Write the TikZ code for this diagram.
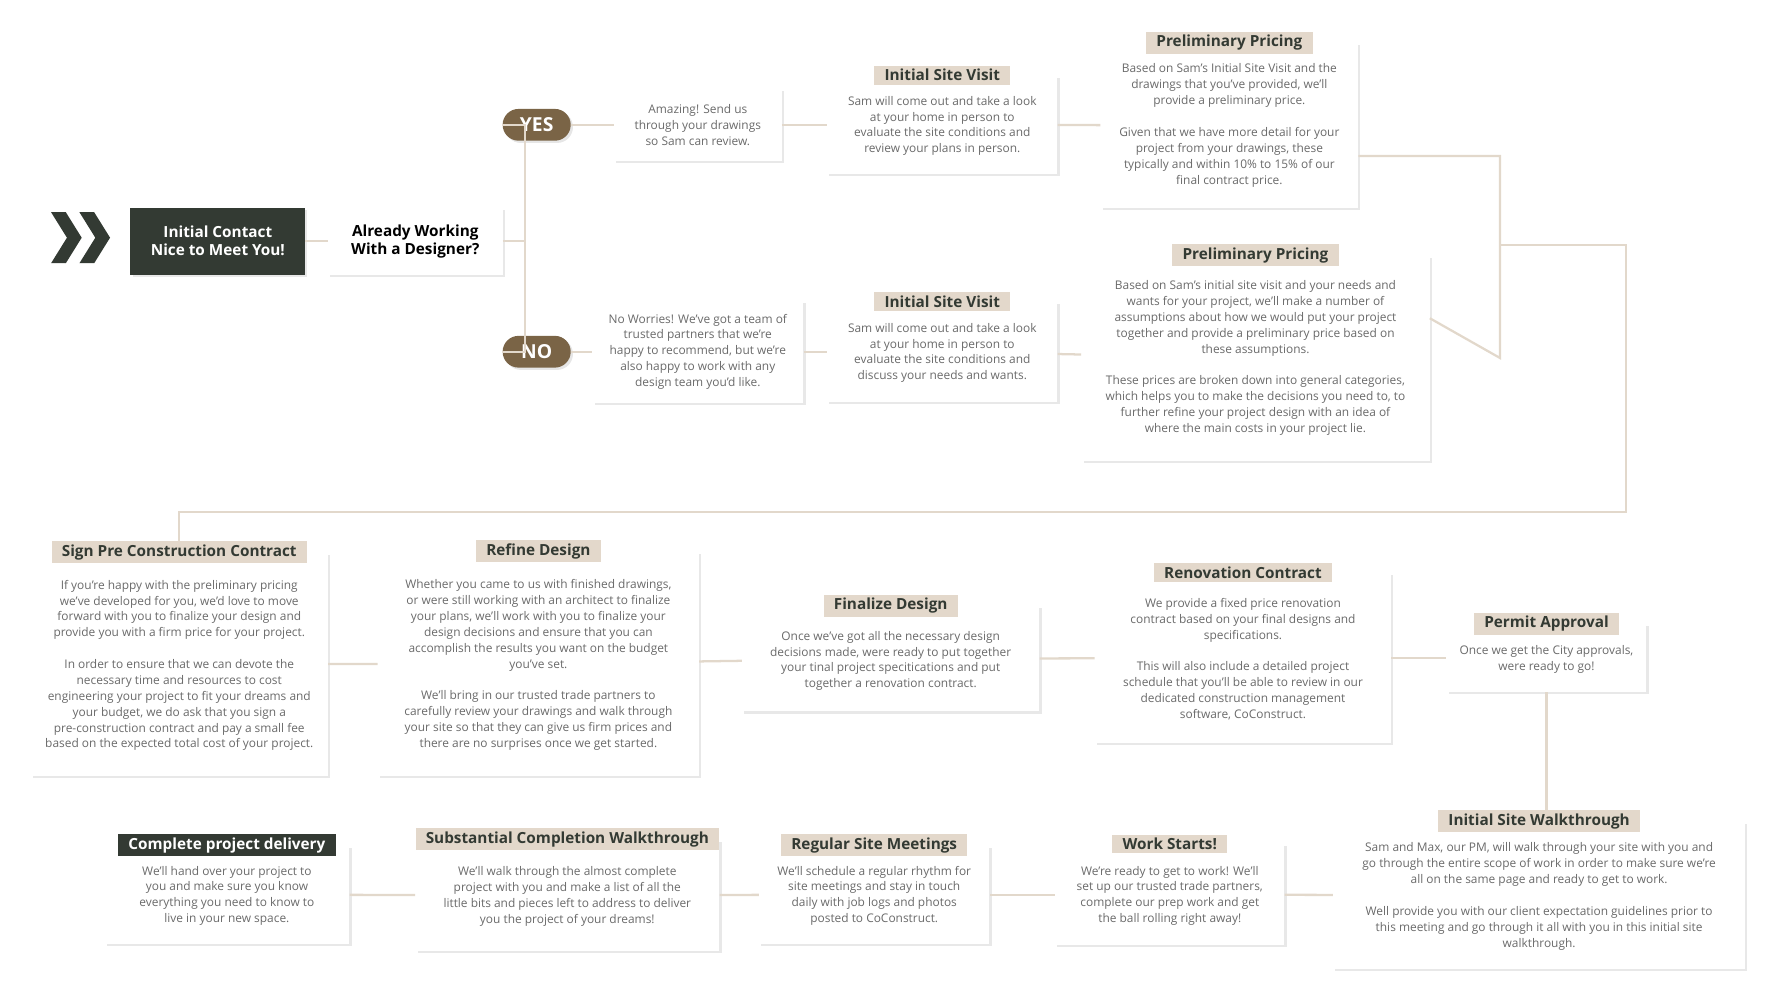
\documentclass[tikz,border=0pt]{standalone}
\usepackage{fontspec}
\setmainfont{Open Sans}
\usetikzlibrary{shadows}
\definecolor{beige}{HTML}{E2D8CB}
\definecolor{tab}{HTML}{E3D8CB}
\definecolor{dark}{HTML}{333A33}
\definecolor{brown}{HTML}{7A6446}
\definecolor{body}{HTML}{6A6A6A}
\tikzset{
	box/.style={draw=none,fill=white,drop shadow={opacity=0.18,shadow xshift=2pt,shadow yshift=-2pt},
		align=center,font=\fontsize{10.5}{14}\selectfont,text=body,inner sep=0pt},
	head/.style={fill=tab,font=\fontsize{13.5}{15}\selectfont\bfseries,text=dark,inner xsep=9pt,inner ysep=3pt},
	dhead/.style={head,fill=dark,text=white},
	pill/.style={fill=brown,rounded corners=14pt,minimum width=60pt,minimum height=28pt,text=white,
		font=\fontsize{17}{17}\selectfont\bfseries,drop shadow={opacity=0.2,shadow xshift=2pt,shadow yshift=-2pt}},
	link/.style={draw=beige,line width=2pt}
}
\begin{document}
\begin{tikzpicture}[x=1pt,y=-1pt]
	\useasboundingbox (0,0) rectangle (1560,881);
	% start
	\fill[dark] (45,187) -- (58,187) -- (72,209.5) -- (58,232) -- (45,232) -- (59,209.5) -- cycle;
	\fill[dark] (70,187) -- (83,187) -- (97,209.5) -- (83,232) -- (70,232) -- (84,209.5) -- cycle;
	\node[box,fill=dark,text=white,minimum width=154pt,minimum height=59pt,font=\fontsize{13.5}{16}\selectfont\bfseries] (init) at (192,212.5) {Initial Contact\\Nice to Meet You!};
	\node[box,text=black,minimum width=154pt,minimum height=59pt,font=\fontsize{13.5}{16}\selectfont\bfseries] (designer) at (366,212.5) {Already Working\\With a Designer?};
	\node[pill] (yes) at (473,110) {YES};
	\node[pill] (no) at (473,310) {NO};

	% yes row
	\node[box,minimum width=148pt,minimum height=63pt] (amazing) at (615,110) {Amazing! Send us\\through your drawings\\so Sam can review.};
	\node[box,minimum width=203pt,minimum height=87pt] (visita) at (830.5,110) {\\[-4pt]Sam will come out and take a look\\at your home in person to\\evaluate the site conditions and\\review your plans in person.};
	\node[head] at (visita.north) {Initial Site Visit};
	\node[box,minimum width=227pt,minimum height=145pt] (pricea) at (1083.5,110.5) {\\[-6pt]Based on Sam's Initial Site Visit and the\\drawings that you've provided, we'll\\provide a preliminary price.\\[14pt]Given that we have more detail for your\\project from your drawings, these\\typically and within 10\% to 15\% of our\\final contract price.};
	\node[head] at (pricea.north) {Preliminary Pricing};

	% no row
	\node[box,minimum width=186pt,minimum height=90pt] (worries) at (615,310) {No Worries! We've got a team of\\trusted partners that we're\\happy to recommend, but we're\\also happy to work with any\\design team you'd like.};
	\node[box,minimum width=203pt,minimum height=88pt] (visitb) at (830.5,310) {\\[-4pt]Sam will come out and take a look\\at your home in person to\\evaluate the site conditions and\\discuss your needs and wants.};
	\node[head] at (visitb.north) {Initial Site Visit};
	\node[box,minimum width=307pt,minimum height=181pt] (priceb) at (1106.5,315.5) {\\[-6pt]Based on Sam's initial site visit and your needs and\\wants for your project, we'll make a number of\\assumptions about how we would put your project\\together and provide a preliminary price based on\\these assumptions.\\[14pt]These prices are broken down into general categories,\\which helps you to make the decisions you need to, to\\further refine your project design with an idea of\\where the main costs in your project lie.};
	\node[head] at (priceb.north) {Preliminary Pricing};

	% middle row
	\node[box,minimum width=262pt,minimum height=197pt] (sign) at (158,585.5) {\\[-4pt]If you're happy with the preliminary pricing\\we've developed for you, we'd love to move\\forward with you to finalize your design and\\provide you with a firm price for your project.\\[14pt]In order to ensure that we can devote the\\necessary time and resources to cost\\engineering your project to fit your dreams and\\your budget, we do ask that you sign a\\pre-construction contract and pay a small fee\\based on the expected total cost of your project.};
	\node[head] (signhead) at (sign.north) {Sign Pre Construction Contract};
	\node[box,minimum width=283pt,minimum height=198pt] (refine) at (474.5,585) {\\[-4pt]Whether you came to us with finished drawings,\\or were still working with an architect to finalize\\your plans, we'll work with you to finalize your\\design decisions and ensure that you can\\accomplish the results you want on the budget\\you've set.\\[14pt]We'll bring in our trusted trade partners to\\carefully review your drawings and walk through\\your site so that they can give us firm prices and\\there are no surprises once we get started.};
	\node[head] at (refine.north) {Refine Design};
	\node[box,minimum width=262pt,minimum height=93pt] (finalize) at (785,580.5) {\\[-2pt]Once we've got all the necessary design\\decisions made, were ready to put together\\your tinal project specitications and put\\together a renovation contract.};
	\node[head] at (finalize.north) {Finalize Design};
	\node[box,minimum width=261pt,minimum height=150pt] (contract) at (1095.5,580) {\\[-4pt]We provide a fixed price renovation\\contract based on your final designs and\\specifications.\\[14pt]This will also include a detailed project\\schedule that you'll be able to review in our\\dedicated construction management\\software, CoConstruct.};
	\node[head] at (contract.north) {Renovation Contract};
	\node[box,minimum width=176pt,minimum height=60pt] (permit) at (1363,580) {\\[-4pt]Once we get the City approvals,\\were ready to go!};
	\node[head] at (permit.north) {Permit Approval};

	% bottom row
	\node[box,minimum width=363pt,minimum height=130pt] (walk) at (1356.5,789) {\\[-4pt]Sam and Max, our PM, will walk through your site with you and\\go through the entire scope of work in order to make sure we're\\all on the same page and ready to get to work.\\[14pt]Well provide you with our client expectation guidelines prior to\\this meeting and go through it all with you in this initial site\\walkthrough.};
	\node[head] (walkhead) at (walk.north) {Initial Site Walkthrough};
	\node[box,minimum width=202pt,minimum height=89pt] (starts) at (1031,788.5) {\\[-4pt]We're ready to get to work! We'll\\set up our trusted trade partners,\\complete our prep work and get\\the ball rolling right away!};
	\node[head] at (starts.north) {Work Starts!};
	\node[box,minimum width=203pt,minimum height=87pt] (meetings) at (770.5,788.5) {\\[-4pt]We'll schedule a regular rhythm for\\site meetings and stay in touch\\daily with job logs and photos\\posted to CoConstruct.};
	\node[head] at (meetings.north) {Regular Site Meetings};
	\node[box,minimum width=268pt,minimum height=98pt] (substantial) at (500,789) {\\[-4pt]We'll walk through the almost complete\\project with you and make a list of all the\\little bits and pieces left to address to deliver\\you the project of your dreams!};
	\node[head] at (substantial.north) {Substantial Completion Walkthrough};
	\node[box,minimum width=216pt,minimum height=87pt] (delivery) at (200,788.5) {\\[-4pt]We'll hand over your project to\\you and make sure you know\\everything you need to know to\\live in your new space.};
	\node[dhead] at (delivery.north) {Complete project delivery};

	% connectors
	\coordinate (fork) at (463,212.5);
	\coordinate (jointa) at (1322,216);
	\coordinate (jointb) at (1433,451);
	\draw[link] (init) -- (designer);
	\draw[link] (designer) -- (fork);
	\draw[link] (yes.west) -| (fork) |- (no.west);
	\draw[link] (yes) -- (amazing);
	\draw[link] (amazing) -- (visita);
	\draw[link] (visita) -- (pricea);
	\draw[link] (no) -- (worries);
	\draw[link] (worries) -- (visitb);
	\draw[link] (visitb) -- (priceb);
	\draw[link] ([yshift=-27pt]pricea.east) -| (jointa |- priceb.east) -- ([yshift=35pt]priceb.east);
	\draw[link] (jointa) -| (jointb) -| (signhead.north);
	\draw[link] (sign) -- (refine);
	\draw[link] (refine) -- (finalize);
	\draw[link] (finalize) -- (contract);
	\draw[link] (contract) -- (permit);
	\draw[link] (permit.south) -- (permit.south |- walkhead.north);
	\draw[link] (walk) -- (starts);
	\draw[link] (starts) -- (meetings);
	\draw[link] (meetings) -- (substantial);
	\draw[link] (substantial) -- (delivery);
\end{tikzpicture}
\end{document}
